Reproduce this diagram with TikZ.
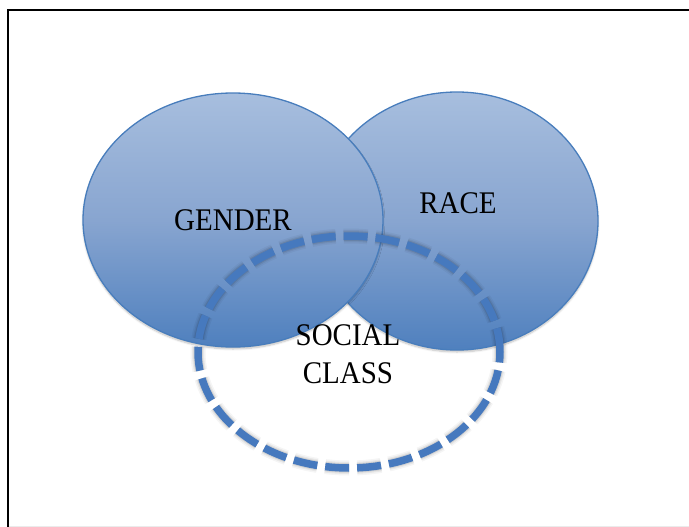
\documentclass[tikz,border=0pt]{standalone}
\usepackage{fontspec}
\setmainfont{Liberation Serif}[FakeStretch=0.92]
\usetikzlibrary{shapes.geometric,shadows.blur}

\definecolor{setTop}{RGB}{167,190,222}
\definecolor{setMid}{RGB}{136,165,208}
\definecolor{setBot}{RGB}{79,128,190}
\definecolor{setEdge}{RGB}{72,125,188}
\definecolor{classDash}{RGB}{70,121,190}

\begin{document}
\begin{tikzpicture}[x=1pt,y=-1pt,
    setcircle/.style={ellipse, draw=setEdge, line width=1.3pt,
      top color=setTop, bottom color=setBot, middle color=setMid, inner sep=0pt,
      blur shadow={shadow xshift=0pt, shadow yshift=-2pt, shadow blur steps=6, shadow opacity=25}},
    setlabel/.style={font=\fontsize{31.5}{38}\selectfont, align=center, inner sep=0pt},
    classline/.style={line width=7.5pt, dash pattern=on 24pt off 8pt}]
        \useasboundingbox (0,0) rectangle (689,527);
        % 外框
        \draw[line width=2.5pt] (8,527) -- (8,10) -- (689,10);
        \draw[black!8, line width=1pt] (9,526) -- (689,526);

        % 两个实心椭圆
        \node[setcircle, minimum width=282pt, minimum height=258pt] (race) at (457,221) {};
        \node[setcircle, setlabel, minimum width=300pt, minimum height=254pt] (gender) at (233,220) {GENDER};
        \node[setlabel] (racelabel) at (458,203) {RACE};

        % 虚线椭圆和阴影
        \coordinate (classc) at (349,352);
        \foreach \w/\op in {15/0.04, 12/0.06, 9.5/0.09}
          \draw[black, opacity=\op, line width=\w pt, dash pattern=on 24pt off 8pt, yshift=-2pt]
            (classc) ellipse [x radius=151pt, y radius=116pt];
        \draw[classDash, classline] (classc) ellipse [x radius=151pt, y radius=116pt];
        \node[setlabel] (class) at (348,354) {SOCIAL\\CLASS};
      \end{tikzpicture}
\end{document}
